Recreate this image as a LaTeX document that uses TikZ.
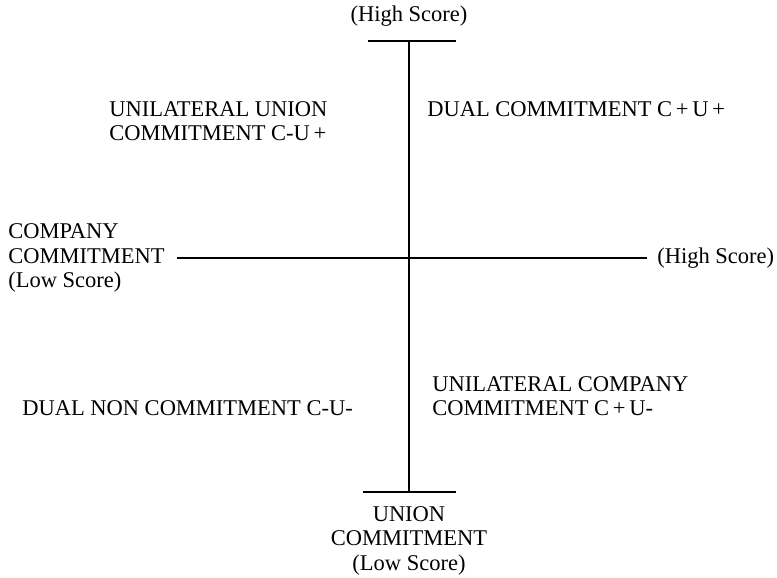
\documentclass[tikz,border=0pt]{standalone}
\usepackage{fontspec}
\setmainfont{Liberation Serif}
\usepackage{tikz}
\usetikzlibrary{positioning}

\begin{document}
\begin{tikzpicture}[x=0.025cm,y=-0.025cm]
\tikzstyle{every node}=[font=\fontsize{16}{17.4}\selectfont,inner sep=0pt]
\useasboundingbox (0,0) rectangle (777,578);
% axis ends
\coordinate (T) at (409,41);
\coordinate (Bm) at (409,492);
\coordinate (TL) at (368,41);
\coordinate (TR) at (456,41);
\coordinate (BL) at (363,492);
\coordinate (BR) at (456,492);
% labels
\node (hstop) at (409,16) {(High Score)};
\node (union) [below=10pt of Bm,align=center] {UNION\\COMMITMENT\\(Low Score)};
\node (company) [anchor=west,align=left] at (8,258) {COMPANY\\COMMITMENT\\(Low Score)};
\node (hsright) [anchor=west] at (657,258) {(High Score)};
\node (cmu) [anchor=west,align=left] at (109,121) {UNILATERAL UNION\\COMMITMENT C-U\,+};
\node (cpup) [anchor=west] at (427,109) {DUAL COMMITMENT C\,+\,U\,+};
\node (cmum) [anchor=west] at (22,408) {DUAL NON COMMITMENT C-U-};
\node (cpum) [anchor=west,align=left] at (432,396) {UNILATERAL COMPANY\\COMMITMENT C\,+\,U-};
% axes
\draw[line width=1.4pt] (TL) -- (TR);
\draw[line width=1.4pt] (BL) -- (BR);
\draw[line width=1.1pt] (T) -- (Bm);
\draw[line width=1.1pt] ([xshift=9pt]company.east |- hsright.west) -- ([xshift=-7pt]hsright.west);
\end{tikzpicture}
\end{document}
